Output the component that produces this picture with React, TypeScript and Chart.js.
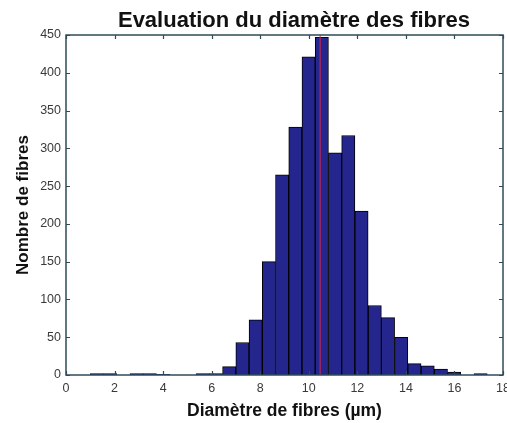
import React, { useEffect, useRef } from 'react';
import { Chart, registerables } from 'chart.js';

Chart.register(...registerables);

const TITLE = 'Evaluation du diamètre des fibres';
const X_TITLE = 'Diamètre de fibres (µm)';
const Y_TITLE = 'Nombre de fibres';

// Histogram bin centres (µm) and counts
const binCenters = [
  1.2725, 1.8175, 2.3625, 2.9075, 3.4525, 3.9975, 4.5425, 5.0875, 5.6325, 6.1775,
  6.7225, 7.2675, 7.8125, 8.3575, 8.9025, 9.4475, 9.9925, 10.5375, 11.0825, 11.6275,
  12.1725, 12.7175, 13.2625, 13.8075, 14.3525, 14.8975, 15.4425, 15.9875, 16.5325, 17.0775,
];
const counts = [
  2, 2, 0, 2, 2, 1, 0, 0, 2, 2,
  11, 43, 73, 150, 265, 328, 421, 447, 294, 317,
  217, 92, 76, 50, 15, 12, 8, 4, 0, 2,
];
const meanDiameter = 10.47;
const xTicks = [0, 2, 4, 6, 8, 10, 12, 14, 16, 18];
const yTicks = [0, 50, 100, 150, 200, 250, 300, 350, 400, 450];

const FONT = '"Liberation Sans", Arial, Helvetica, sans-serif';

const framePlugin = {
  id: 'matlabFrame',
  afterDatasetsDraw(chart: any) {
    const { ctx, chartArea, scales } = chart;
    const { left, right, top, bottom } = chartArea;
    const x = scales.x;
    const y = scales.y;
    ctx.save();
    ctx.strokeStyle = '#2f4b5a';
    ctx.lineWidth = 1.5;
    ctx.strokeRect(left, top, right - left, bottom - top);
    ctx.lineWidth = 1.2;
    ctx.beginPath();
    for (const v of xTicks) {
      const px = Math.round(x.getPixelForValue(v)) + 0.5;
      ctx.moveTo(px, bottom);
      ctx.lineTo(px, bottom - 4);
      ctx.moveTo(px, top);
      ctx.lineTo(px, top + 4);
    }
    for (const v of yTicks) {
      const py = Math.round(y.getPixelForValue(v)) + 0.5;
      ctx.moveTo(left, py);
      ctx.lineTo(left + 4, py);
      ctx.moveTo(right, py);
      ctx.lineTo(right - 4, py);
    }
    ctx.stroke();
    ctx.fillStyle = '#111111';
    ctx.font = `bold 22px ${FONT}`;
    ctx.textAlign = 'center';
    ctx.textBaseline = 'middle';
    ctx.fillText(TITLE, 294, 21);
    ctx.restore();
  },
};

export default function App() {
  const canvasRef = useRef<HTMLCanvasElement | null>(null);

  useEffect(() => {
    const canvas = canvasRef.current;
    if (!canvas) return;
    const chart = new Chart(canvas, {
      type: 'bar',
      data: {
        datasets: [
          {
            type: 'line',
            label: 'Moyenne',
            data: [
              { x: meanDiameter, y: 0 },
              { x: meanDiameter, y: 450 },
            ],
            borderColor: 'rgba(225, 40, 70, 0.65)',
            borderWidth: 1.5,
            pointRadius: 0,
            fill: false,
          } as any,
          {
            type: 'bar',
            label: 'Fibres',
            data: binCenters.map((c, i) => ({ x: c, y: counts[i] })),
            backgroundColor: '#24268e',
            borderColor: '#000000',
            borderWidth: 1,
            barPercentage: 1,
            categoryPercentage: 1,
          } as any,
        ],
      },
      options: {
        responsive: false,
        animation: false,
        devicePixelRatio: 1,
        layout: { padding: { top: 35, right: 4, left: 0, bottom: 0 } },
        plugins: {
          legend: { display: false },
          tooltip: { enabled: false },
          title: { display: false },
        },
        scales: {
          x: {
            type: 'linear',
            min: 0,
            max: 18,
            offset: false,
            grid: { display: false, drawTicks: false },
            border: { display: false },
            afterBuildTicks: (scale: any) => {
              scale.ticks = xTicks.map((v) => ({ value: v }));
            },
            ticks: {
              autoSkip: false,
              maxRotation: 0,
              padding: 6,
              color: '#3a3a3a',
              font: { family: FONT, size: 12.5 },
              callback: (v: any) => String(v),
            },
            title: {
              display: true,
              text: X_TITLE,
              color: '#111111',
              font: { family: FONT, size: 17.5, weight: 'bold' },
              padding: { top: 0, bottom: 1 },
            },
            afterFit: (scale: any) => {
              scale.height = 48;
              scale.paddingLeft = 0;
              scale.paddingRight = 0;
            },
          },
          y: {
            type: 'linear',
            min: 0,
            max: 450,
            grid: { display: false, drawTicks: false },
            border: { display: false },
            afterBuildTicks: (scale: any) => {
              scale.ticks = yTicks.map((v) => ({ value: v }));
            },
            ticks: {
              autoSkip: false,
              padding: 5,
              color: '#3a3a3a',
              font: { family: FONT, size: 12.5 },
              callback: (v: any) => String(v),
            },
            title: {
              display: true,
              text: Y_TITLE,
              color: '#111111',
              font: { family: FONT, size: 17, weight: 'bold' },
              padding: { top: 13, bottom: 0 },
            },
            afterFit: (scale: any) => {
              scale.width = 66;
              scale.paddingTop = 0;
              scale.paddingBottom = 0;
            },
          },
        },
      },
      plugins: [framePlugin],
    });
    return () => chart.destroy();
  }, []);

  return (
    <div
      style={{
        position: 'fixed',
        left: 0,
        top: 0,
        width: 507,
        height: 423,
        background: '#ffffff',
      }}
    >
      <canvas ref={canvasRef} width={507} height={423} style={{ display: 'block' }} />
    </div>
  );
}
